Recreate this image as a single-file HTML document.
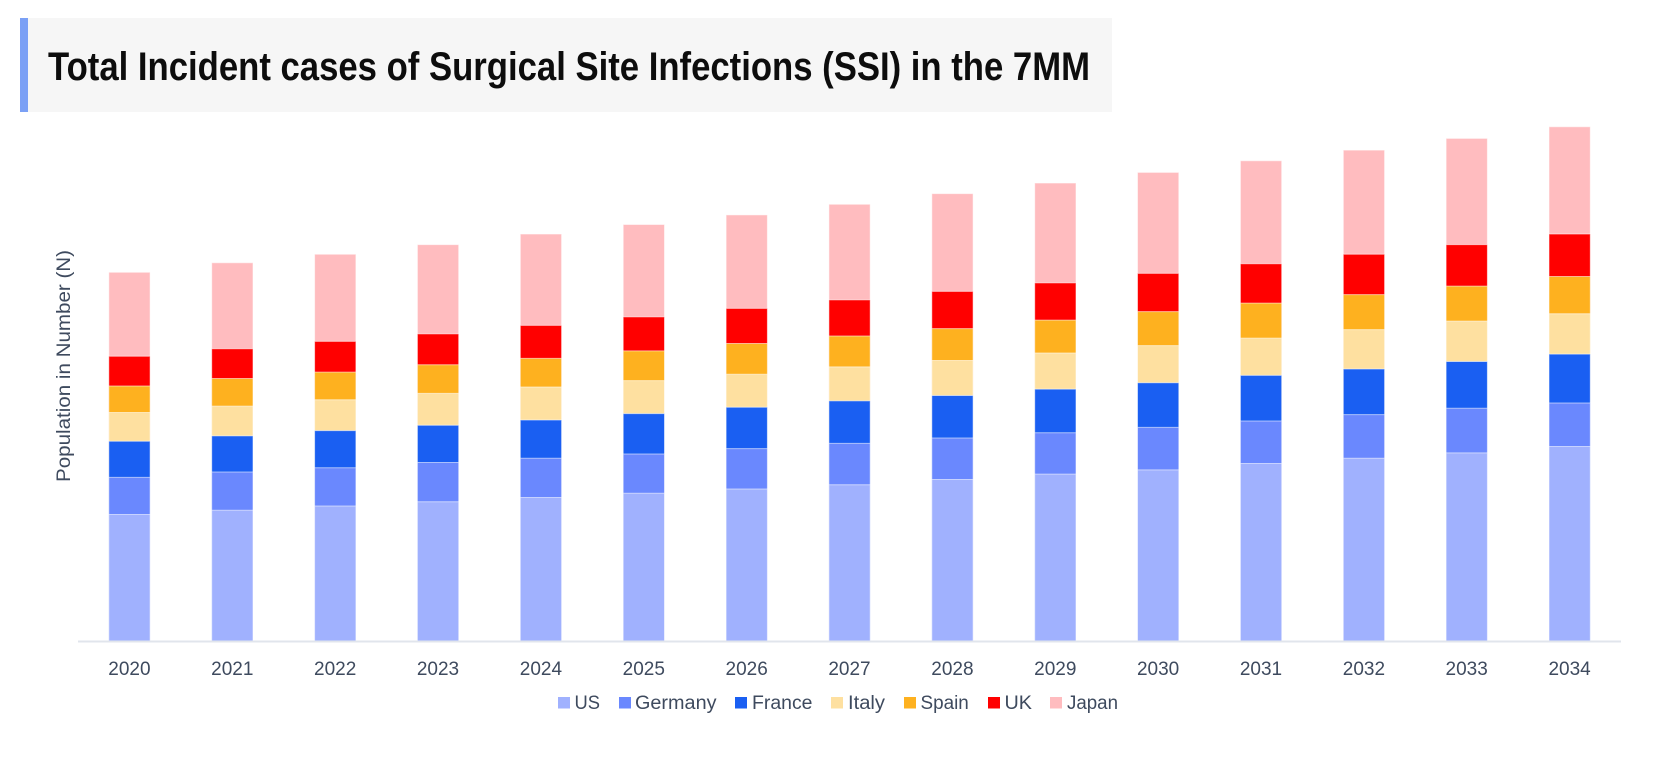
<!DOCTYPE html>
<html>
<head>
<meta charset="utf-8">
<style>
html,body{margin:0;padding:0;background:#fff;}
svg{display:block;}
text{font-family:"Liberation Sans",Arial,sans-serif;}
</style>
</head>
<body>
<svg width="1667" height="763" viewBox="0 0 1667 763" xmlns="http://www.w3.org/2000/svg">
<rect x="0" y="0" width="1667" height="763" fill="#ffffff"/>
<!-- Title box -->
<rect x="20" y="18" width="1092" height="94" fill="#f6f6f6"/>
<rect x="20" y="18" width="8" height="94" fill="#7ba0f5"/>
<text x="48" y="80" font-size="40" font-weight="bold" fill="#0d0d0d" textLength="1042" lengthAdjust="spacingAndGlyphs">Total Incident cases of Surgical Site Infections (SSI) in the 7MM</text>

<!-- Y axis title -->
<text transform="translate(70,366) rotate(-90)" text-anchor="middle" font-size="19" fill="#3e4a5e" textLength="232" lengthAdjust="spacingAndGlyphs">Population in Number (N)</text>

<!-- Bars (y in displayed units, scaled) -->
<g transform="matrix(1 0 0 1.0626 0 0.25)" stroke="#ffffff" stroke-opacity="0.55" stroke-width="1">
<!-- each bar: rects drawn from boundary to base 603 -->
<g transform="translate(108.8,0)">
<rect vector-effect="non-scaling-stroke" x="0" width="41.3" y="256" height="347" fill="#ffbcbf"/>
<rect vector-effect="non-scaling-stroke" x="0" width="41.3" y="335" height="268" fill="#ff0000"/>
<rect vector-effect="non-scaling-stroke" x="0" width="41.3" y="363" height="240" fill="#feb11f"/>
<rect vector-effect="non-scaling-stroke" x="0" width="41.3" y="388" height="215" fill="#fee0a0"/>
<rect vector-effect="non-scaling-stroke" x="0" width="41.3" y="415" height="188" fill="#1a5ff2"/>
<rect vector-effect="non-scaling-stroke" x="0" width="41.3" y="449" height="154" fill="#6a88fe"/>
<rect vector-effect="non-scaling-stroke" x="0" width="41.3" y="484" height="119" fill="#a0b1fe"/>
</g>
<g transform="translate(211.7,0)">
<rect vector-effect="non-scaling-stroke" x="0" width="41.3" y="247" height="356" fill="#ffbcbf"/>
<rect vector-effect="non-scaling-stroke" x="0" width="41.3" y="328" height="275" fill="#ff0000"/>
<rect vector-effect="non-scaling-stroke" x="0" width="41.3" y="356" height="247" fill="#feb11f"/>
<rect vector-effect="non-scaling-stroke" x="0" width="41.3" y="382" height="221" fill="#fee0a0"/>
<rect vector-effect="non-scaling-stroke" x="0" width="41.3" y="410" height="193" fill="#1a5ff2"/>
<rect vector-effect="non-scaling-stroke" x="0" width="41.3" y="444" height="159" fill="#6a88fe"/>
<rect vector-effect="non-scaling-stroke" x="0" width="41.3" y="480" height="123" fill="#a0b1fe"/>
</g>
<g transform="translate(314.6,0)">
<rect vector-effect="non-scaling-stroke" x="0" width="41.3" y="239" height="364" fill="#ffbcbf"/>
<rect vector-effect="non-scaling-stroke" x="0" width="41.3" y="321" height="282" fill="#ff0000"/>
<rect vector-effect="non-scaling-stroke" x="0" width="41.3" y="350" height="253" fill="#feb11f"/>
<rect vector-effect="non-scaling-stroke" x="0" width="41.3" y="376" height="227" fill="#fee0a0"/>
<rect vector-effect="non-scaling-stroke" x="0" width="41.3" y="405" height="198" fill="#1a5ff2"/>
<rect vector-effect="non-scaling-stroke" x="0" width="41.3" y="440" height="163" fill="#6a88fe"/>
<rect vector-effect="non-scaling-stroke" x="0" width="41.3" y="476" height="127" fill="#a0b1fe"/>
</g>
<g transform="translate(417.4,0)">
<rect vector-effect="non-scaling-stroke" x="0" width="41.3" y="230" height="373" fill="#ffbcbf"/>
<rect vector-effect="non-scaling-stroke" x="0" width="41.3" y="314" height="289" fill="#ff0000"/>
<rect vector-effect="non-scaling-stroke" x="0" width="41.3" y="343" height="260" fill="#feb11f"/>
<rect vector-effect="non-scaling-stroke" x="0" width="41.3" y="370" height="233" fill="#fee0a0"/>
<rect vector-effect="non-scaling-stroke" x="0" width="41.3" y="400" height="203" fill="#1a5ff2"/>
<rect vector-effect="non-scaling-stroke" x="0" width="41.3" y="435" height="168" fill="#6a88fe"/>
<rect vector-effect="non-scaling-stroke" x="0" width="41.3" y="472" height="131" fill="#a0b1fe"/>
</g>
<g transform="translate(520.3,0)">
<rect vector-effect="non-scaling-stroke" x="0" width="41.3" y="220" height="383" fill="#ffbcbf"/>
<rect vector-effect="non-scaling-stroke" x="0" width="41.3" y="306" height="297" fill="#ff0000"/>
<rect vector-effect="non-scaling-stroke" x="0" width="41.3" y="337" height="266" fill="#feb11f"/>
<rect vector-effect="non-scaling-stroke" x="0" width="41.3" y="364" height="239" fill="#fee0a0"/>
<rect vector-effect="non-scaling-stroke" x="0" width="41.3" y="395" height="208" fill="#1a5ff2"/>
<rect vector-effect="non-scaling-stroke" x="0" width="41.3" y="431" height="172" fill="#6a88fe"/>
<rect vector-effect="non-scaling-stroke" x="0" width="41.3" y="468" height="135" fill="#a0b1fe"/>
</g>
<g transform="translate(623.2,0)">
<rect vector-effect="non-scaling-stroke" x="0" width="41.3" y="211" height="392" fill="#ffbcbf"/>
<rect vector-effect="non-scaling-stroke" x="0" width="41.3" y="298" height="305" fill="#ff0000"/>
<rect vector-effect="non-scaling-stroke" x="0" width="41.3" y="330" height="273" fill="#feb11f"/>
<rect vector-effect="non-scaling-stroke" x="0" width="41.3" y="358" height="245" fill="#fee0a0"/>
<rect vector-effect="non-scaling-stroke" x="0" width="41.3" y="389" height="214" fill="#1a5ff2"/>
<rect vector-effect="non-scaling-stroke" x="0" width="41.3" y="427" height="176" fill="#6a88fe"/>
<rect vector-effect="non-scaling-stroke" x="0" width="41.3" y="464" height="139" fill="#a0b1fe"/>
</g>
<g transform="translate(726.1,0)">
<rect vector-effect="non-scaling-stroke" x="0" width="41.3" y="202" height="401" fill="#ffbcbf"/>
<rect vector-effect="non-scaling-stroke" x="0" width="41.3" y="290" height="313" fill="#ff0000"/>
<rect vector-effect="non-scaling-stroke" x="0" width="41.3" y="323" height="280" fill="#feb11f"/>
<rect vector-effect="non-scaling-stroke" x="0" width="41.3" y="352" height="251" fill="#fee0a0"/>
<rect vector-effect="non-scaling-stroke" x="0" width="41.3" y="383" height="220" fill="#1a5ff2"/>
<rect vector-effect="non-scaling-stroke" x="0" width="41.3" y="422" height="181" fill="#6a88fe"/>
<rect vector-effect="non-scaling-stroke" x="0" width="41.3" y="460" height="143" fill="#a0b1fe"/>
</g>
<g transform="translate(828.9,0)">
<rect vector-effect="non-scaling-stroke" x="0" width="41.3" y="192" height="411" fill="#ffbcbf"/>
<rect vector-effect="non-scaling-stroke" x="0" width="41.3" y="282" height="321" fill="#ff0000"/>
<rect vector-effect="non-scaling-stroke" x="0" width="41.3" y="316" height="287" fill="#feb11f"/>
<rect vector-effect="non-scaling-stroke" x="0" width="41.3" y="345" height="258" fill="#fee0a0"/>
<rect vector-effect="non-scaling-stroke" x="0" width="41.3" y="377" height="226" fill="#1a5ff2"/>
<rect vector-effect="non-scaling-stroke" x="0" width="41.3" y="417" height="186" fill="#6a88fe"/>
<rect vector-effect="non-scaling-stroke" x="0" width="41.3" y="456" height="147" fill="#a0b1fe"/>
</g>
<g transform="translate(931.8,0)">
<rect vector-effect="non-scaling-stroke" x="0" width="41.3" y="182" height="421" fill="#ffbcbf"/>
<rect vector-effect="non-scaling-stroke" x="0" width="41.3" y="274" height="329" fill="#ff0000"/>
<rect vector-effect="non-scaling-stroke" x="0" width="41.3" y="309" height="294" fill="#feb11f"/>
<rect vector-effect="non-scaling-stroke" x="0" width="41.3" y="339" height="264" fill="#fee0a0"/>
<rect vector-effect="non-scaling-stroke" x="0" width="41.3" y="372" height="231" fill="#1a5ff2"/>
<rect vector-effect="non-scaling-stroke" x="0" width="41.3" y="412" height="191" fill="#6a88fe"/>
<rect vector-effect="non-scaling-stroke" x="0" width="41.3" y="451" height="152" fill="#a0b1fe"/>
</g>
<g transform="translate(1034.7,0)">
<rect vector-effect="non-scaling-stroke" x="0" width="41.3" y="172" height="431" fill="#ffbcbf"/>
<rect vector-effect="non-scaling-stroke" x="0" width="41.3" y="266" height="337" fill="#ff0000"/>
<rect vector-effect="non-scaling-stroke" x="0" width="41.3" y="301" height="302" fill="#feb11f"/>
<rect vector-effect="non-scaling-stroke" x="0" width="41.3" y="332" height="271" fill="#fee0a0"/>
<rect vector-effect="non-scaling-stroke" x="0" width="41.3" y="366" height="237" fill="#1a5ff2"/>
<rect vector-effect="non-scaling-stroke" x="0" width="41.3" y="407" height="196" fill="#6a88fe"/>
<rect vector-effect="non-scaling-stroke" x="0" width="41.3" y="446" height="157" fill="#a0b1fe"/>
</g>
<g transform="translate(1137.5,0)">
<rect vector-effect="non-scaling-stroke" x="0" width="41.3" y="162" height="441" fill="#ffbcbf"/>
<rect vector-effect="non-scaling-stroke" x="0" width="41.3" y="257" height="346" fill="#ff0000"/>
<rect vector-effect="non-scaling-stroke" x="0" width="41.3" y="293" height="310" fill="#feb11f"/>
<rect vector-effect="non-scaling-stroke" x="0" width="41.3" y="325" height="278" fill="#fee0a0"/>
<rect vector-effect="non-scaling-stroke" x="0" width="41.3" y="360" height="243" fill="#1a5ff2"/>
<rect vector-effect="non-scaling-stroke" x="0" width="41.3" y="402" height="201" fill="#6a88fe"/>
<rect vector-effect="non-scaling-stroke" x="0" width="41.3" y="442" height="161" fill="#a0b1fe"/>
</g>
<g transform="translate(1240.4,0)">
<rect vector-effect="non-scaling-stroke" x="0" width="41.3" y="151" height="452" fill="#ffbcbf"/>
<rect vector-effect="non-scaling-stroke" x="0" width="41.3" y="248" height="355" fill="#ff0000"/>
<rect vector-effect="non-scaling-stroke" x="0" width="41.3" y="285" height="318" fill="#feb11f"/>
<rect vector-effect="non-scaling-stroke" x="0" width="41.3" y="318" height="285" fill="#fee0a0"/>
<rect vector-effect="non-scaling-stroke" x="0" width="41.3" y="353" height="250" fill="#1a5ff2"/>
<rect vector-effect="non-scaling-stroke" x="0" width="41.3" y="396" height="207" fill="#6a88fe"/>
<rect vector-effect="non-scaling-stroke" x="0" width="41.3" y="436" height="167" fill="#a0b1fe"/>
</g>
<g transform="translate(1343.3,0)">
<rect vector-effect="non-scaling-stroke" x="0" width="41.3" y="141" height="462" fill="#ffbcbf"/>
<rect vector-effect="non-scaling-stroke" x="0" width="41.3" y="239" height="364" fill="#ff0000"/>
<rect vector-effect="non-scaling-stroke" x="0" width="41.3" y="277" height="326" fill="#feb11f"/>
<rect vector-effect="non-scaling-stroke" x="0" width="41.3" y="310" height="293" fill="#fee0a0"/>
<rect vector-effect="non-scaling-stroke" x="0" width="41.3" y="347" height="256" fill="#1a5ff2"/>
<rect vector-effect="non-scaling-stroke" x="0" width="41.3" y="390" height="213" fill="#6a88fe"/>
<rect vector-effect="non-scaling-stroke" x="0" width="41.3" y="431" height="172" fill="#a0b1fe"/>
</g>
<g transform="translate(1446.1,0)">
<rect vector-effect="non-scaling-stroke" x="0" width="41.3" y="130" height="473" fill="#ffbcbf"/>
<rect vector-effect="non-scaling-stroke" x="0" width="41.3" y="230" height="373" fill="#ff0000"/>
<rect vector-effect="non-scaling-stroke" x="0" width="41.3" y="269" height="334" fill="#feb11f"/>
<rect vector-effect="non-scaling-stroke" x="0" width="41.3" y="302" height="301" fill="#fee0a0"/>
<rect vector-effect="non-scaling-stroke" x="0" width="41.3" y="340" height="263" fill="#1a5ff2"/>
<rect vector-effect="non-scaling-stroke" x="0" width="41.3" y="384" height="219" fill="#6a88fe"/>
<rect vector-effect="non-scaling-stroke" x="0" width="41.3" y="426" height="177" fill="#a0b1fe"/>
</g>
<g transform="translate(1549.0,0)">
<rect vector-effect="non-scaling-stroke" x="0" width="41.3" y="119" height="484" fill="#ffbcbf"/>
<rect vector-effect="non-scaling-stroke" x="0" width="41.3" y="220" height="383" fill="#ff0000"/>
<rect vector-effect="non-scaling-stroke" x="0" width="41.3" y="260" height="343" fill="#feb11f"/>
<rect vector-effect="non-scaling-stroke" x="0" width="41.3" y="295" height="308" fill="#fee0a0"/>
<rect vector-effect="non-scaling-stroke" x="0" width="41.3" y="333" height="270" fill="#1a5ff2"/>
<rect vector-effect="non-scaling-stroke" x="0" width="41.3" y="379" height="224" fill="#6a88fe"/>
<rect vector-effect="non-scaling-stroke" x="0" width="41.3" y="420" height="183" fill="#a0b1fe"/>
</g>
</g>

<!-- X axis line -->
<line x1="78" y1="641.5" x2="1621" y2="641.5" stroke="#e1e5ec" stroke-width="2"/>

<!-- X labels -->
<g font-size="19" fill="#3e4a5e" text-anchor="middle">
<text x="129.4" y="675">2020</text>
<text x="232.3" y="675">2021</text>
<text x="335.2" y="675">2022</text>
<text x="438.0" y="675">2023</text>
<text x="540.9" y="675">2024</text>
<text x="643.8" y="675">2025</text>
<text x="746.7" y="675">2026</text>
<text x="849.5" y="675">2027</text>
<text x="952.4" y="675">2028</text>
<text x="1055.3" y="675">2029</text>
<text x="1158.1" y="675">2030</text>
<text x="1261.0" y="675">2031</text>
<text x="1363.9" y="675">2032</text>
<text x="1466.7" y="675">2033</text>
<text x="1569.6" y="675">2034</text>
</g>

<!-- Legend -->
<g font-size="19" fill="#3e4a5e">
<rect x="558" y="697" width="12" height="11.5" fill="#a0b1fe"/>
<text x="574.5" y="709" textLength="25.5" lengthAdjust="spacingAndGlyphs">US</text>
<rect x="619" y="697" width="12" height="11.5" fill="#6a88fe"/>
<text x="635" y="709" textLength="81.5" lengthAdjust="spacingAndGlyphs">Germany</text>
<rect x="735" y="697" width="12" height="11.5" fill="#1a5ff2"/>
<text x="752" y="709" textLength="60.5" lengthAdjust="spacingAndGlyphs">France</text>
<rect x="831" y="697" width="12" height="11.5" fill="#fee0a0"/>
<text x="848" y="709" textLength="37" lengthAdjust="spacingAndGlyphs">Italy</text>
<rect x="904" y="697" width="12" height="11.5" fill="#feb11f"/>
<text x="920.5" y="709" textLength="48.3" lengthAdjust="spacingAndGlyphs">Spain</text>
<rect x="988" y="697" width="12" height="11.5" fill="#ff0000"/>
<text x="1004.5" y="709" textLength="27.5" lengthAdjust="spacingAndGlyphs">UK</text>
<rect x="1050" y="697" width="12" height="11.5" fill="#ffbcbf"/>
<text x="1067" y="709" textLength="51" lengthAdjust="spacingAndGlyphs">Japan</text>
</g>
</svg>
</body>
</html>
